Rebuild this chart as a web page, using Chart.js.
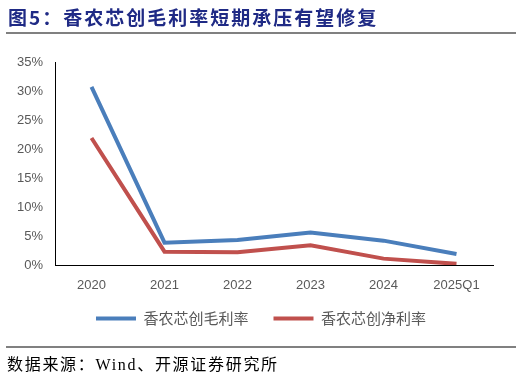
<!DOCTYPE html>
<html>
<head>
<meta charset="utf-8">
<script src="https://cdn.jsdelivr.net/npm/chart.js@4/dist/chart.umd.min.js"></script>
<style>
    body { margin: 0; background: #fff; }
    #wrap { position: relative; width: 522px; height: 377px; overflow: hidden; }
    #title { position: absolute; left: 8px; top: 3px; font: bold 19px "Noto Sans CJK SC", sans-serif; color: #1f2a85; letter-spacing: 2px; white-space: nowrap; }
    .rule { position: absolute; left: 6px; width: 510px; height: 2px; background: #808080; }
    #source { position: absolute; left: 7px; top: 351px; font: 16px "Liberation Serif", "Noto Sans CJK SC", serif; color: #000; letter-spacing: 1.7px; white-space: nowrap; }
    #grafica { position: absolute; left: 0; top: 0; }
</style>
</head>
<body>
<div id="wrap">
    <canvas id="grafica" width="522" height="377"></canvas>
    <div id="title">图5：香农芯创毛利率短期承压有望修复</div>
    <div class="rule" style="top:32px"></div>
    <div class="rule" style="top:346px; height:1.5px"></div>
    <div id="source">数据来源：Wind、开源证券研究所</div>
</div>
<script>
"use strict";
const categorias = ["2020", "2021", "2022", "2023", "2024", "2025Q1"];
const margenBruto = [30.7, 3.85, 4.3, 5.6, 4.2, 1.9];
const margenNeto = [21.9, 2.3, 2.2, 3.4, 1.1, 0.2];
const ticksY = [0, 5, 10, 15, 20, 25, 30, 35];

document.addEventListener("DOMContentLoaded", () => {
    const grafica = document.querySelector("#grafica");

    new Chart(grafica, {
        type: "line",
        data: {
            labels: categorias,
            datasets: [
                {
                    label: "香农芯创毛利率",
                    data: margenBruto,
                    borderColor: "#4a7ebb",
                    backgroundColor: "#4a7ebb",
                    borderWidth: 4,
                    pointRadius: 0,
                    tension: 0,
                },
                {
                    label: "香农芯创净利率",
                    data: margenNeto,
                    borderColor: "#c0504d",
                    backgroundColor: "#c0504d",
                    borderWidth: 4,
                    pointRadius: 0,
                    tension: 0,
                },
            ],
        },
        options: {
            responsive: false,
            animation: false,
            layout: { padding: { left: 0, top: 62, right: 0, bottom: 41 } },
            scales: {
                x: {
                    offset: true,
                    grid: { display: false, drawTicks: false },
                    border: { color: "#000", width: 1 },
                    ticks: {
                        color: "#595959",
                        padding: 13,
                        maxRotation: 0,
                        font: { family: "Liberation Sans", size: 13 },
                    },
                    afterFit: (scale) => { scale.height = 36; },
                },
                y: {
                    min: 0,
                    max: 35,
                    afterBuildTicks: (scale) => {
                        scale.ticks = ticksY.map((v) => ({ value: v }));
                    },
                    grid: { display: false, drawTicks: false },
                    border: { color: "#000", width: 1 },
                    ticks: {
                        color: "#595959",
                        padding: 12,
                        font: { family: "Liberation Sans", size: 13 },
                        callback: (v) => v + "%",
                    },
                    afterFit: (scale) => { scale.width = 55; },
                },
                // espacio vacio a la derecha del area de la grafica
                derecha: {
                    position: "right",
                    grid: { display: false, drawTicks: false },
                    border: { display: false },
                    ticks: { display: false },
                    afterFit: (scale) => { scale.width = 29; },
                },
            },
            plugins: {
                tooltip: { enabled: false },
                legend: {
                    position: "bottom",
                    labels: {
                        boxWidth: 40,
                        boxHeight: 4,
                        padding: 10,
                        color: "#595959",
                        font: { family: "Noto Sans CJK SC", size: 15 },
                        generateLabels: (chart) =>
                            Chart.defaults.plugins.legend.labels
                                .generateLabels(chart)
                                .map((item, i) => ({
                                    ...item,
                                    text: i === 0 ? item.text + "\u3000" : item.text,
                                    lineWidth: 0,
                                })),
                    },
                },
            },
        },
    });
});
</script>
</body>
</html>
